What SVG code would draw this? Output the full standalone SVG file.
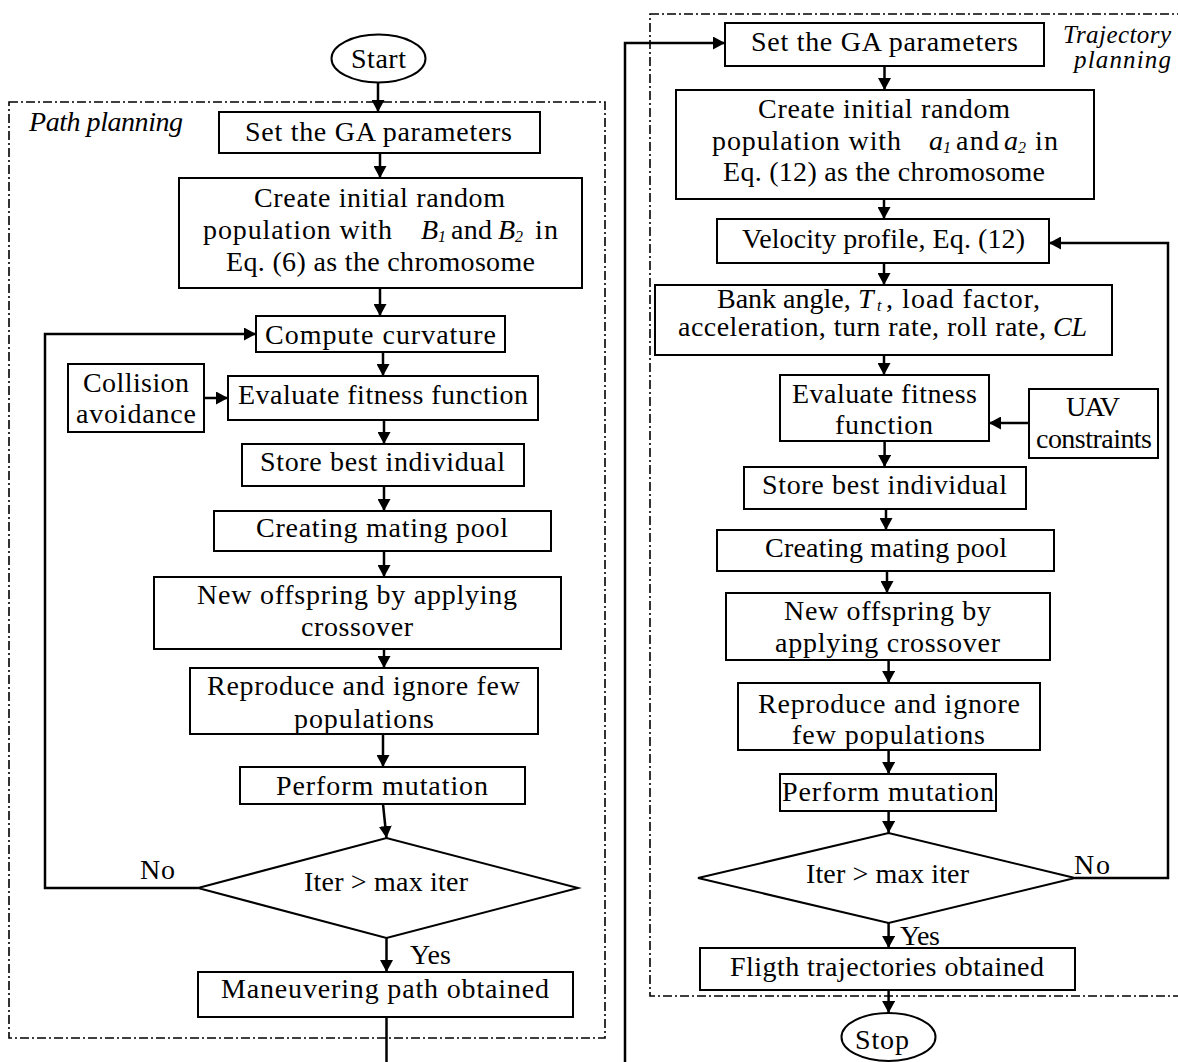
<svg xmlns="http://www.w3.org/2000/svg" width="1178" height="1062" viewBox="0 0 1178 1062">
<style>
  text { font-family: "Liberation Serif", "Times New Roman", serif; font-size: 28px; fill: #000; }
  .it { font-style: italic; }
  .sub { font-size: 16px; font-style: italic; }
  .lbl { font-size: 25px; font-style: italic; }
  .box { fill: #fff; stroke: #000; stroke-width: 2; }
  .frame { fill: none; stroke: #000; stroke-width: 1.6; stroke-dasharray: 9 3 2 3; }
  .conn { fill: none; stroke: #000; stroke-width: 2.5; }
  .arr { marker-end: url(#ah); }
</style>
<defs>
  <marker id="ah" markerUnits="userSpaceOnUse" markerWidth="13" markerHeight="13" refX="12" refY="6.5" orient="auto">
    <path d="M0,0 L12,6.5 L0,13 z" fill="#000"/>
  </marker>
</defs>
<rect width="1178" height="1062" fill="#fff"/>

<!-- frames -->
<g id="frames">
  <rect class="frame" x="9" y="102" width="596" height="936"/>
  <rect class="frame" x="650" y="14" width="540" height="982"/>
  <text class="it" x="29" y="131" textLength="154" lengthAdjust="spacing">Path planning</text>
  <text class="lbl" x="1063" y="43" textLength="108" lengthAdjust="spacing">Trajectory</text>
  <text class="lbl" x="1074" y="68" textLength="97" lengthAdjust="spacing">planning</text>
</g>

<!-- connectors -->
<g id="connectors">
  <line class="conn arr" x1="378" y1="83" x2="378" y2="112"/>
  <line class="conn arr" x1="380" y1="153" x2="380" y2="178"/>
  <line class="conn arr" x1="380" y1="288" x2="380" y2="316"/>
  <line class="conn arr" x1="383" y1="352" x2="383" y2="376"/>
  <line class="conn arr" x1="204" y1="398" x2="228" y2="398"/>
  <line class="conn arr" x1="384" y1="420" x2="384" y2="444"/>
  <line class="conn arr" x1="384" y1="486" x2="384" y2="511"/>
  <line class="conn arr" x1="384" y1="551" x2="384" y2="577"/>
  <line class="conn arr" x1="384" y1="640" x2="384" y2="668"/>
  <line class="conn arr" x1="383" y1="734" x2="383" y2="767"/>
  <line class="conn arr" x1="383" y1="804" x2="386.5" y2="838"/>
  <line class="conn arr" x1="386.5" y1="938" x2="386.5" y2="972"/>
  <polyline class="conn arr" points="198,888 45,888 45,334 256,334"/>
  <line class="conn" x1="386.5" y1="1017" x2="386.5" y2="1062"/>
  <polyline class="conn arr" points="625,1062 625,43 725,43"/>

  <line class="conn arr" x1="884.5" y1="66" x2="884.5" y2="90"/>
  <line class="conn arr" x1="884" y1="199" x2="884" y2="219"/>
  <line class="conn arr" x1="884" y1="263" x2="884" y2="285"/>
  <line class="conn arr" x1="884" y1="355" x2="884" y2="375"/>
  <line class="conn arr" x1="1029" y1="423" x2="989" y2="423"/>
  <line class="conn arr" x1="884.6" y1="441" x2="884.6" y2="467"/>
  <line class="conn arr" x1="886" y1="509" x2="886" y2="530"/>
  <line class="conn arr" x1="887" y1="571" x2="887" y2="593"/>
  <line class="conn arr" x1="888.6" y1="660" x2="888.6" y2="683"/>
  <line class="conn arr" x1="888.6" y1="750" x2="888.6" y2="774"/>
  <line class="conn arr" x1="888.6" y1="811" x2="888.6" y2="833"/>
  <line class="conn arr" x1="888.6" y1="923" x2="888.6" y2="948"/>
  <line class="conn arr" x1="888.6" y1="990" x2="888.6" y2="1013"/>
  <polyline class="conn arr" points="1075,878 1168,878 1168,243 1049,243"/>
</g>

<!-- left column nodes -->
<g id="start">
  <ellipse class="box" cx="378.5" cy="58.5" rx="47" ry="24"/>
  <text x="351" y="68" textLength="55" lengthAdjust="spacing">Start</text>
</g>
<g id="l-setga">
  <rect class="box" x="219" y="112" width="321" height="41"/>
  <text x="245" y="141" textLength="267" lengthAdjust="spacing">Set the GA parameters</text>
</g>
<g id="l-create">
  <rect class="box" x="179" y="178" width="403" height="110"/>
  <text x="254" y="207" textLength="251" lengthAdjust="spacing">Create initial random</text>
  <text x="203" y="239" textLength="189" lengthAdjust="spacing">population with</text>
  <text class="it" x="421" y="239">B</text><text class="sub" x="438" y="242">1</text>
  <text x="451" y="239" textLength="41" lengthAdjust="spacing">and</text>
  <text class="it" x="498" y="239">B</text><text class="sub" x="515" y="242">2</text>
  <text x="535" y="239" textLength="23" lengthAdjust="spacing">in</text>
  <text x="226" y="271" textLength="309" lengthAdjust="spacing">Eq. (6) as the chromosome</text>
</g>
<g id="l-compute">
  <rect class="box" x="256" y="316" width="249" height="36"/>
  <text x="265" y="344" textLength="231" lengthAdjust="spacing">Compute curvature</text>
</g>
<g id="l-collision">
  <rect class="box" x="68" y="364" width="136" height="68"/>
  <text x="83" y="392" textLength="106" lengthAdjust="spacing">Collision</text>
  <text x="76" y="423" textLength="120" lengthAdjust="spacing">avoidance</text>
</g>
<g id="l-evaluate">
  <rect class="box" x="228" y="376" width="310" height="44"/>
  <text x="238" y="404" textLength="290" lengthAdjust="spacing">Evaluate fitness function</text>
</g>
<g id="l-store">
  <rect class="box" x="242" y="444" width="282" height="42"/>
  <text x="260" y="471" textLength="245" lengthAdjust="spacing">Store best individual</text>
</g>
<g id="l-mating">
  <rect class="box" x="214" y="511" width="337" height="40"/>
  <text x="256" y="537" textLength="252" lengthAdjust="spacing">Creating mating pool</text>
</g>
<g id="l-offspring">
  <rect class="box" x="154" y="577" width="407" height="72"/>
  <text x="197" y="604" textLength="320" lengthAdjust="spacing">New offspring by applying</text>
  <text x="301" y="636" textLength="112" lengthAdjust="spacing">crossover</text>
</g>
<g id="l-reproduce">
  <rect class="box" x="190" y="668" width="348" height="66"/>
  <text x="207" y="695" textLength="313" lengthAdjust="spacing">Reproduce and ignore few</text>
  <text x="294" y="728" textLength="140" lengthAdjust="spacing">populations</text>
</g>
<g id="l-mutation">
  <rect class="box" x="240" y="767" width="285" height="37"/>
  <text x="276" y="795" textLength="212" lengthAdjust="spacing">Perform mutation</text>
</g>
<g id="l-decision">
  <polygon class="box" points="198,888 386.5,838 578,888 386.5,938"/>
  <text x="304" y="891" textLength="164" lengthAdjust="spacing">Iter &gt; max iter</text>
  <text x="140" y="879" textLength="35" lengthAdjust="spacing">No</text>
  <text x="410" y="964" textLength="41" lengthAdjust="spacing">Yes</text>
</g>
<g id="l-path">
  <rect class="box" x="198" y="972" width="375" height="45"/>
  <text x="221" y="998" textLength="328" lengthAdjust="spacing">Maneuvering path obtained</text>
</g>

<!-- right column nodes -->
<g id="r-setga">
  <rect class="box" x="725" y="23" width="319" height="43"/>
  <text x="751" y="51" textLength="267" lengthAdjust="spacing">Set the GA parameters</text>
</g>
<g id="r-create">
  <rect class="box" x="676" y="90" width="418" height="109"/>
  <text x="758" y="118" textLength="252" lengthAdjust="spacing">Create initial random</text>
  <text x="712" y="150" textLength="189" lengthAdjust="spacing">population with</text>
  <text class="it" x="929" y="150">a</text><text class="sub" x="943" y="153">1</text>
  <text x="956" y="150" textLength="43" lengthAdjust="spacing">and</text>
  <text class="it" x="1004" y="150">a</text><text class="sub" x="1018" y="153">2</text>
  <text x="1035" y="150" textLength="23" lengthAdjust="spacing">in</text>
  <text x="723" y="181" textLength="322" lengthAdjust="spacing">Eq. (12) as the chromosome</text>
</g>
<g id="r-velocity">
  <rect class="box" x="717" y="219" width="332" height="44"/>
  <text x="742" y="248" textLength="283" lengthAdjust="spacing">Velocity profile, Eq. (12)</text>
</g>
<g id="r-bank">
  <rect class="box" x="655" y="285" width="457" height="70"/>
  <text x="717" y="308">Bank angle,</text>
  <text class="it" x="858" y="308">T</text><text class="sub" x="877" y="311">t</text>
  <text x="886" y="308" textLength="154" lengthAdjust="spacing">, load factor,</text>
  <text x="678" y="336" textLength="368" lengthAdjust="spacing">acceleration, turn rate, roll rate,</text>
  <text class="it" x="1053" y="336" textLength="34" lengthAdjust="spacing">CL</text>
</g>
<g id="r-evaluate">
  <rect class="box" x="780" y="375" width="209" height="66"/>
  <text x="792" y="403" textLength="185" lengthAdjust="spacing">Evaluate fitness</text>
  <text x="835" y="434" textLength="98" lengthAdjust="spacing">function</text>
</g>
<g id="r-uav">
  <rect class="box" x="1029" y="389" width="129" height="69"/>
  <text x="1066" y="416" textLength="54" lengthAdjust="spacing">UAV</text>
  <text x="1036" y="448" textLength="116" lengthAdjust="spacing">constraints</text>
</g>
<g id="r-store">
  <rect class="box" x="744" y="467" width="282" height="42"/>
  <text x="762" y="494" textLength="245" lengthAdjust="spacing">Store best individual</text>
</g>
<g id="r-mating">
  <rect class="box" x="717" y="530" width="337" height="41"/>
  <text x="765" y="557" textLength="242" lengthAdjust="spacing">Creating mating pool</text>
</g>
<g id="r-offspring">
  <rect class="box" x="726" y="593" width="324" height="67"/>
  <text x="784" y="620" textLength="207" lengthAdjust="spacing">New offspring by</text>
  <text x="775" y="652" textLength="225" lengthAdjust="spacing">applying crossover</text>
</g>
<g id="r-reproduce">
  <rect class="box" x="738" y="683" width="302" height="67"/>
  <text x="758" y="713" textLength="262" lengthAdjust="spacing">Reproduce and ignore</text>
  <text x="792" y="744" textLength="193" lengthAdjust="spacing">few populations</text>
</g>
<g id="r-mutation">
  <rect class="box" x="780" y="774" width="216" height="37"/>
  <text x="782" y="801" textLength="212" lengthAdjust="spacing">Perform mutation</text>
</g>
<g id="r-decision">
  <polygon class="box" points="698,878 888.6,833 1075,878 888.6,923"/>
  <text x="806" y="883" textLength="163" lengthAdjust="spacing">Iter &gt; max iter</text>
  <text x="1074" y="874" textLength="36" lengthAdjust="spacing">No</text>
  <text x="900" y="945" textLength="40" lengthAdjust="spacing">Yes</text>
</g>
<g id="r-flight">
  <rect class="box" x="700" y="948" width="375" height="42"/>
  <text x="730" y="976" textLength="314" lengthAdjust="spacing">Fligth trajectories obtained</text>
</g>
<g id="stop">
  <ellipse class="box" cx="888.5" cy="1037" rx="47" ry="24"/>
  <text x="855" y="1049" textLength="54" lengthAdjust="spacing">Stop</text>
</g>
</svg>
